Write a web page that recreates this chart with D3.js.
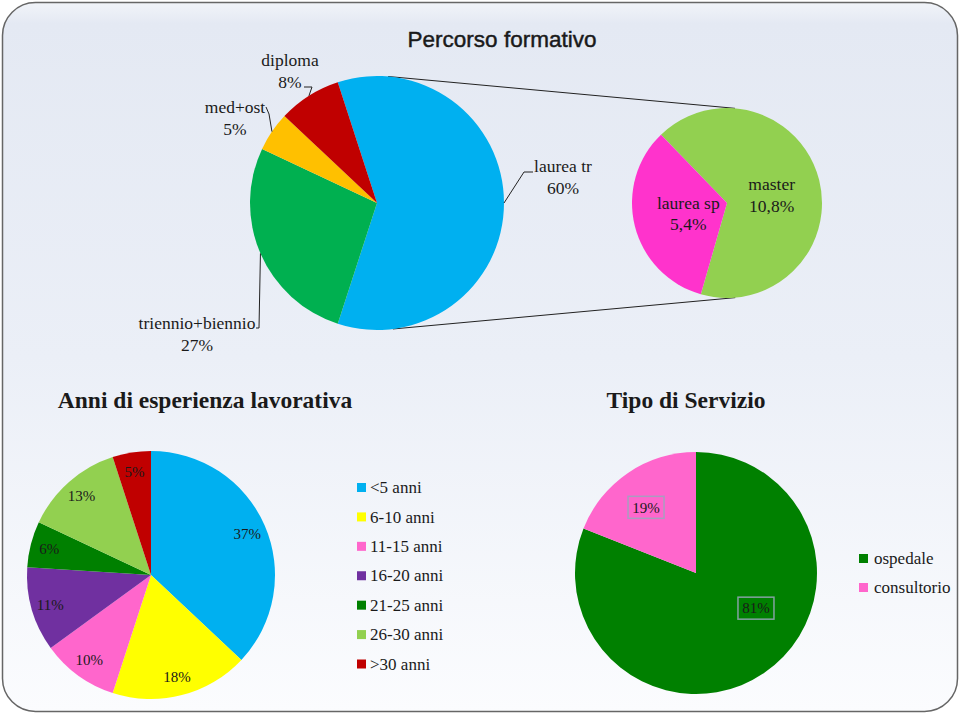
<!DOCTYPE html>
<meta charset="utf-8">
<style>
body { margin: 0; background: #ffffff; }
text { font-family: "Liberation Serif", "Times New Roman", serif; fill: #1a1a1a; }
.title-sans { font-family: "Liberation Sans", Arial, sans-serif; stroke: #1a1a1a; stroke-width: 0.45px; }
</style>
<body>
<svg width="960" height="714" id="chart"></svg>

<script src="https://d3js.org/d3.v7.min.js"></script>
<script>

// Percorso formativo (main pie)
var percorsoLabels = ["laurea tr", "triennio+biennio", "med+ost", "diploma"];
var percorsoValues = [60, 27, 5, 8];
var percorsoColors = ["#00b0f0", "#00b050", "#ffc000", "#c00000"];

// breakdown pie of "laurea tr"
var laureaLabels = ["master", "laurea sp"];
var laureaValues = [10.8, 5.4];
var laureaText = ["10,8%", "5,4%"];
var laureaColors = ["#92d050", "#ff33cc"];

// Anni di esperienza lavorativa
var anniLabels = ["<5 anni", "6-10 anni", "11-15 anni", "16-20 anni", "21-25 anni", "26-30 anni", ">30 anni"];
var anniValues = [37, 18, 10, 11, 6, 13, 5];
var anniColors = ["#00b0f0", "#ffff00", "#ff66cc", "#7030a0", "#008000", "#92d050", "#c00000"];

// Tipo di Servizio
var servizioLabels = ["ospedale", "consultorio"];
var servizioValues = [81, 19];
var servizioColors = ["#008000", "#ff66cc"];

var deg = Math.PI / 180;
var svg = d3.select("#chart");

// panel background
var defs = svg.append("defs");
var grad = defs.append("linearGradient")
    .attr("id", "bg").attr("x1", 0).attr("y1", 0).attr("x2", 0).attr("y2", 1);
grad.append("stop").attr("offset", "0").attr("stop-color", "#f1f4f9");
grad.append("stop").attr("offset", "0.03").attr("stop-color", "#e4e9f3");
grad.append("stop").attr("offset", "0.5").attr("stop-color", "#ebeff7");
grad.append("stop").attr("offset", "1").attr("stop-color", "#fbfcfe");

svg.append("rect")
    .attr("x", 2.5).attr("y", 2.5)
    .attr("width", 955).attr("height", 709)
    .attr("rx", 33).attr("ry", 33)
    .attr("fill", "url(#bg)")
    .attr("stroke", "#666")
    .attr("stroke-width", 1.5);

function pointAt(cx, cy, r, a) {
  return [cx + r * Math.sin(a), cy - r * Math.cos(a)];
}

/* ---------- Percorso formativo ---------- */
var p1 = { cx: 377, cy: 203, r: 127 };
var p2 = { cx: 727, cy: 203, r: 95 };

svg.append("text")
    .attr("class", "title-sans")
    .attr("x", 502).attr("y", 46.5)
    .attr("text-anchor", "middle")
    .attr("font-size", 22.5)
    .text("Percorso formativo");

// connector lines between the two pies
var connectors = [[5, 4.8], [172.8, 175]];
svg.selectAll(".connector")
    .data(connectors)
  .enter().append("line")
    .attr("class", "connector")
    .attr("x1", function(d) { return pointAt(p1.cx, p1.cy, p1.r, d[0] * deg)[0]; })
    .attr("y1", function(d) { return pointAt(p1.cx, p1.cy, p1.r, d[0] * deg)[1]; })
    .attr("x2", function(d) { return pointAt(p2.cx, p2.cy, p2.r, d[1] * deg)[0]; })
    .attr("y2", function(d) { return pointAt(p2.cx, p2.cy, p2.r, d[1] * deg)[1]; })
    .attr("stroke", "#222")
    .attr("stroke-width", 1);

var pie1 = d3.pie().sort(null).startAngle(-18 * deg).endAngle(342 * deg);
var arc1 = d3.arc().innerRadius(0).outerRadius(p1.r);
var arcs1 = pie1(percorsoValues);

var g1 = svg.append("g").attr("transform", "translate(" + p1.cx + "," + p1.cy + ")");
g1.selectAll("path")
    .data(arcs1)
  .enter().append("path")
    .attr("d", arc1)
    .attr("fill", function(d, i) { return percorsoColors[i]; });

// callout labels: text position + elbow of leader line
var callouts = [
  { tx: 563, ty: 172, elbow: [[524, 172], [533, 172]] },
  { tx: 197, ty: 329, elbow: [[259, 328], [256, 328]] },
  { tx: 235, ty: 113, elbow: [[269, 114], [266, 107]] },
  { tx: 290, ty: 66,  elbow: [[312, 87], [304, 87]] }
];

arcs1.forEach(function(d, i) {
  var mid = (d.startAngle + d.endAngle) / 2;
  var pts = [pointAt(p1.cx, p1.cy, p1.r, mid)].concat(callouts[i].elbow);
  svg.append("path")
      .attr("d", d3.line()(pts))
      .attr("fill", "none")
      .attr("stroke", "#222")
      .attr("stroke-width", 1);
  var t = svg.append("text")
      .attr("text-anchor", "middle")
      .attr("font-size", 17.5);
  t.append("tspan").attr("x", callouts[i].tx).attr("y", callouts[i].ty).text(percorsoLabels[i]);
  t.append("tspan").attr("x", callouts[i].tx).attr("dy", 21.5).text(percorsoValues[i] + "%");
});

// secondary pie
var pie2 = d3.pie().sort(null).startAngle(-44 * deg).endAngle(316 * deg);
var arc2 = d3.arc().innerRadius(0).outerRadius(p2.r);
var arcs2 = pie2(laureaValues);
var g2 = svg.append("g").attr("transform", "translate(" + p2.cx + "," + p2.cy + ")");
g2.selectAll("path")
    .data(arcs2)
  .enter().append("path")
    .attr("d", arc2)
    .attr("fill", function(d, i) { return laureaColors[i]; });

var labelArc2 = d3.arc().innerRadius(44).outerRadius(44);
var nudge2 = [[2, 3], [4, 0]];
arcs2.forEach(function(d, i) {
  var c = labelArc2.centroid(d);
  var x = c[0] + nudge2[i][0], y = c[1] + nudge2[i][1];
  var t = g2.append("text")
      .attr("text-anchor", "middle")
      .attr("font-size", 17.5);
  t.append("tspan").attr("x", x).attr("y", y - 5).text(laureaLabels[i]);
  t.append("tspan").attr("x", x).attr("dy", 21.5).text(laureaText[i]);
});

/* ---------- Anni di esperienza lavorativa ---------- */
var p3 = { cx: 151, cy: 575, r: 124 };

svg.append("text")
    .attr("x", 205).attr("y", 408)
    .attr("text-anchor", "middle")
    .attr("font-size", 23.5)
    .attr("font-weight", "bold")
    .text("Anni di esperienza lavorativa");

var pie3 = d3.pie().sort(null);
var arc3 = d3.arc().innerRadius(0).outerRadius(p3.r);
var labelArc3 = d3.arc().innerRadius(105).outerRadius(105);
var arcs3 = pie3(anniValues);
var g3 = svg.append("g").attr("transform", "translate(" + p3.cx + "," + p3.cy + ")");
g3.selectAll("path")
    .data(arcs3)
  .enter().append("path")
    .attr("d", arc3)
    .attr("fill", function(d, i) { return anniColors[i]; });

g3.selectAll(".lbl")
    .data(arcs3)
  .enter().append("text")
    .attr("class", "lbl")
    .attr("transform", function(d) { return "translate(" + labelArc3.centroid(d) + ")"; })
    .attr("text-anchor", "middle")
    .attr("dy", "0.35em")
    .attr("font-size", 15)
    .text(function(d) { return d.data + "%"; });

var y3 = d3.scalePoint().domain(anniLabels).range([487.5, 664]);
var leg3 = svg.selectAll(".leg3")
    .data(anniLabels)
  .enter().append("g")
    .attr("class", "leg3")
    .attr("transform", function(d) { return "translate(357," + y3(d) + ")"; });
leg3.append("rect")
    .attr("x", 0).attr("y", -4.5)
    .attr("width", 9).attr("height", 9)
    .attr("fill", function(d, i) { return anniColors[i]; });
leg3.append("text")
    .attr("x", 13).attr("dy", "0.33em")
    .attr("font-size", 17)
    .text(function(d) { return d; });

/* ---------- Tipo di Servizio ---------- */
var p4 = { cx: 696, cy: 573, r: 121 };

svg.append("text")
    .attr("x", 686).attr("y", 408)
    .attr("text-anchor", "middle")
    .attr("font-size", 23.5)
    .attr("font-weight", "bold")
    .text("Tipo di Servizio");

var pie4 = d3.pie().sort(null);
var arc4 = d3.arc().innerRadius(0).outerRadius(p4.r);
var arcs4 = pie4(servizioValues);
var g4 = svg.append("g").attr("transform", "translate(" + p4.cx + "," + p4.cy + ")");
g4.selectAll("path")
    .data(arcs4)
  .enter().append("path")
    .attr("d", arc4)
    .attr("fill", function(d, i) { return servizioColors[i]; });

var labelArc4 = d3.arc().innerRadius(80).outerRadius(80);
var nudge4 = [[15, -31], [-5, 0.5]];
arcs4.forEach(function(d, i) {
  var c = labelArc4.centroid(d);
  var x = c[0] + nudge4[i][0], y = c[1] + nudge4[i][1];
  g4.append("rect")
      .attr("x", x - 18).attr("y", y - 11)
      .attr("width", 36).attr("height", 22)
      .attr("fill", "none")
      .attr("stroke", "#9aa7bd")
      .attr("stroke-opacity", 0.85)
      .attr("stroke-width", 1.5);
  g4.append("text")
      .attr("x", x).attr("y", y)
      .attr("dy", "0.35em")
      .attr("text-anchor", "middle")
      .attr("font-size", 15)
      .text(d.data + "%");
});

var y4 = d3.scalePoint().domain(servizioLabels).range([558.5, 587.5]);
var leg4 = svg.selectAll(".leg4")
    .data(servizioLabels)
  .enter().append("g")
    .attr("class", "leg4")
    .attr("transform", function(d) { return "translate(859," + y4(d) + ")"; });
leg4.append("rect")
    .attr("x", 0).attr("y", -4.5)
    .attr("width", 9).attr("height", 9)
    .attr("fill", function(d, i) { return servizioColors[i]; });
leg4.append("text")
    .attr("x", 15).attr("dy", "0.33em")
    .attr("font-size", 17)
    .text(function(d) { return d; });

</script>
</body>
